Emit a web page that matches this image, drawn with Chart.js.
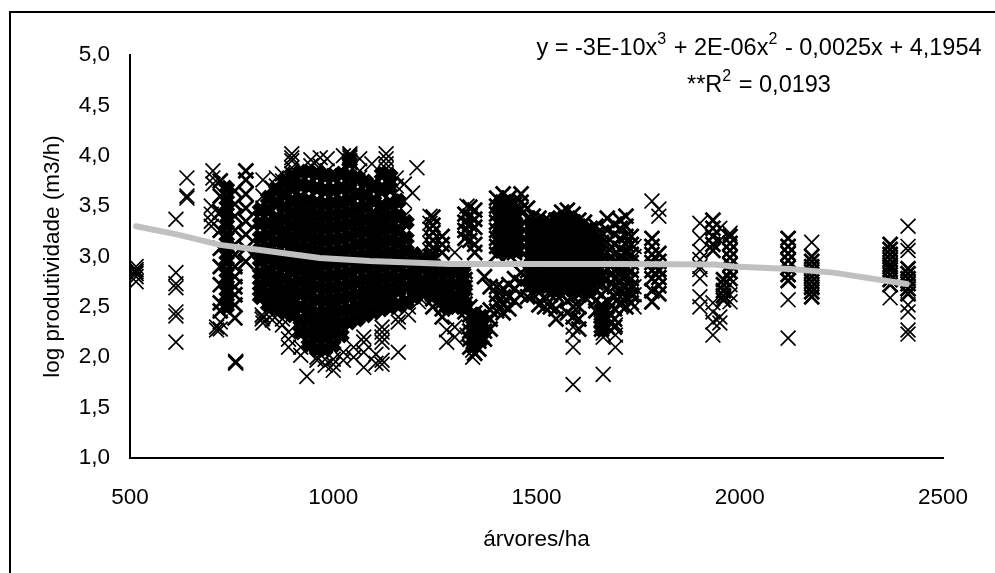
<!DOCTYPE html>
<html lang="pt">
<head>
<meta charset="utf-8">
<script src="https://cdn.jsdelivr.net/npm/chart.js@4"></script>
<style>
html,body{margin:0;padding:0;background:#fff;width:995px;height:573px;overflow:hidden}
#wrap{position:relative;width:995px;height:573px}
canvas{position:absolute;left:0;top:0}
#frame{position:absolute;left:9px;top:11px;width:986px;height:562px;border-left:2px solid #000;border-top:2px solid #000;box-sizing:border-box}
.eq{position:absolute;font:23.5px "Liberation Sans",Arial,sans-serif;color:#000;white-space:nowrap;text-align:center;width:480px;left:519px}
.eq sup{font-size:16px;line-height:0;vertical-align:baseline;position:relative;top:-11px;padding-right:1px}
</style>
</head>
<body>
<div id="wrap">
<canvas id="c" width="995" height="573"></canvas>
<div id="frame"></div>
<div class="eq" style="top:34px">y = -3E-10x<sup>3</sup> + 2E-06x<sup>2</sup> - 0,0025x + 4,1954</div>
<div class="eq" style="top:71px">**R<sup>2</sup> = 0,0193</div>
</div>
<script>
const xTicks=[500,1000,1500,2000,2500];
const yTicks=[1,1.5,2,2.5,3,3.5,4,4.5,5];

// Trend line
const trendX=[515,615,721,820,967,1090,1287,1500,1700,1939,1983,2124,2230,2411];
const trendY=[3.30,3.22,3.115,3.065,2.985,2.955,2.926,2.926,2.926,2.92,2.90,2.875,2.84,2.727];

// Overplotted solid black parts of the cloud
const coreX=[738,820,840,860,880,900,920,940,960,980,1000,1020,1040,1060,1080,1100,1120,1140,1160,1180,1200,1220,1240,1260,1280,1300,1320,1345,1365,1410,1430,1448,1490,1510,1530,1550,1570,1590,1610,1630,1650,1660];
const coreY=[
[3.68,3.56,3.44,3.32,3.20,3.08,2.96,2.84,2.72,2.60,2.50],
[3.46,3.33,3.19,3.07,2.96,2.83,2.71,2.60],
[3.58,3.46,3.33,3.21,3.09,2.98,2.86,2.75,2.63,2.52],
[3.66,3.53,3.38,3.27,3.15,3.03,2.92,2.80,2.69,2.58,2.48],
[3.74,3.62,3.49,3.37,3.25,3.14,3.01,2.90,2.78,2.66,2.55,2.45],
[3.80,3.68,3.55,3.43,3.31,3.19,3.08,2.96,2.85,2.73,2.62,2.52,2.42],
[3.84,3.71,3.57,3.46,3.34,3.22,3.10,2.98,2.87,2.75,2.63,2.50,2.37,2.25],
[3.84,3.70,3.55,3.43,3.31,3.20,3.08,2.96,2.84,2.72,2.60,2.48,2.36,2.24,2.12],
[3.82,3.68,3.53,3.41,3.29,3.17,3.05,2.93,2.82,2.70,2.57,2.44,2.32,2.20,2.08],
[3.80,3.66,3.52,3.40,3.28,3.16,3.04,2.92,2.80,2.68,2.56,2.44,2.32,2.20,2.08],
[3.80,3.66,3.53,3.41,3.29,3.17,3.05,2.93,2.81,2.69,2.57,2.46,2.35,2.24,2.12],
[3.82,3.68,3.54,3.42,3.30,3.18,3.06,2.94,2.82,2.70,2.58,2.46,2.34,2.22],
[3.94,3.80,3.68,3.56,3.44,3.32,3.20,3.08,2.96,2.84,2.72,2.60,2.47,2.35],
[3.78,3.62,3.48,3.36,3.24,3.12,3.00,2.88,2.75,2.62,2.50,2.38],
[3.74,3.61,3.49,3.37,3.25,3.13,3.01,2.89,2.77,2.65,2.53,2.42],
[3.70,3.55,3.41,3.29,3.17,3.05,2.93,2.81,2.69,2.57,2.45],
[3.82,3.66,3.50,3.38,3.26,3.14,3.02,2.90,2.78,2.66,2.54,2.48],
[3.80,3.68,3.52,3.40,3.28,3.16,3.04,2.92,2.80,2.68,2.58,2.50],
[3.55,3.40,3.26,3.14,3.02,2.90,2.78,2.66,2.52],
[3.34,3.18,3.06,2.94,2.82,2.70,2.55],
[3.02,2.89,2.78,2.68,2.60],
[2.98,2.88,2.76,2.65],
[2.98,2.86,2.74,2.62],
[2.84,2.72,2.60],
[2.84,2.72,2.60,2.50],
[2.84,2.72,2.60,2.50],
[2.84,2.72,2.60,2.50],
[2.42,2.32,2.22,2.12],
[2.38,2.28,2.18],
[3.52,3.40,3.28,3.16,3.06],
[3.54,3.42,3.30,3.18,3.08],
[3.40,3.28,3.16,3.06],
[3.30,3.18,3.06,2.94,2.82,2.72],
[3.30,3.18,3.06,2.94,2.82,2.72],
[3.32,3.20,3.08,2.96,2.84,2.72],
[3.38,3.26,3.14,3.02,2.90,2.78,2.68],
[3.38,3.26,3.14,3.02,2.90,2.78,2.68],
[3.36,3.24,3.12,3.00,2.88,2.76,2.66],
[3.30,3.18,3.06,2.94,2.82,2.70],
[3.24,3.12,3.00,2.88,2.76,2.66],
[3.12,3.00,2.88,2.76],
[2.48,2.38,2.28]
];

// Columns that are nearly solid
const midX=[722,758,785,1245,1268,1324,1336,1348,1358,1372,1386,1402,1418,1432,1446,1462,1478,1492,1506,1520,1534,1548,1562,1576,1590,1604,1618,1632,1646,1660,1674,1692,1706,1720,1733,1784,1801,1934,1960,1976,2119,2177,2370,2414];
const midY=[
[3.75,3.60,3.44,3.26,3.08,2.90,2.72,2.54,2.46],
[3.65,3.52,3.40,3.26,3.12,3.02,2.90,2.80,2.70,2.62,2.52,2.39],
[3.85,3.76,3.62,3.48,3.35,3.22,3.08,2.95],
[3.39,3.31,3.24,3.16,3.08,3.00,2.90,2.82,2.74,2.66,2.58,2.50],
[3.20,3.12,3.04,2.85,2.78,2.70,2.62,2.55,2.48,2.40],
[3.42,3.34,3.26,3.18,2.85,2.77,2.69,2.61,2.53,2.45],
[3.49,3.40,3.32,3.24,3.16,2.50,2.42,2.34,2.26,2.18,2.10],
[3.46,3.37,3.29,3.12,3.04,2.44,2.36,2.28,2.20,2.12,2.04],
[2.40,2.32,2.24,2.16,2.08],
[2.80,2.42,2.34,2.26,2.18],
[2.70,2.47,2.38,2.28],
[3.58,3.50,3.42,3.34,3.26,3.18,3.10,3.02,2.70,2.62,2.54,2.46],
[3.62,3.54,3.46,3.38,3.30,3.22,3.14,3.06,2.68,2.60,2.52,2.44],
[3.58,3.50,3.42,3.34,3.26,3.18,3.10,3.02,2.72,2.60,2.48],
[3.52,3.44,3.36,3.28,3.20,3.12,3.04,2.78,2.68,2.56],
[3.62,3.54,3.47,3.30,3.22,3.14,3.06,2.84,2.74,2.62],
[3.48,3.38,3.30,3.22,3.14,3.06,2.98,2.86,2.78,2.70,2.60],
[3.40,3.32,3.24,3.16,3.08,3.00,2.88,2.80,2.72,2.62],
[3.38,3.30,3.22,3.14,3.06,2.98,2.88,2.80,2.72,2.64,2.52],
[3.36,3.28,3.20,3.12,3.04,2.96,2.88,2.80,2.72,2.60,2.50],
[3.34,3.27,3.19,3.11,3.03,2.95,2.87,2.79,2.71,2.62,2.50],
[3.36,3.28,3.20,3.12,3.04,2.96,2.88,2.80,2.72,2.62,2.48,2.38],
[3.44,3.35,3.27,3.19,3.11,3.03,2.95,2.87,2.79,2.71,2.62],
[3.46,3.38,3.30,3.22,3.14,3.06,2.98,2.90,2.82,2.74,2.66,2.56,2.44],
[3.42,3.34,3.26,3.18,3.10,3.02,2.94,2.86,2.78,2.70,2.60,2.50,2.40],
[3.36,3.28,3.20,3.12,3.04,2.96,2.88,2.80,2.72,2.62,2.50,2.38,2.28],
[3.34,3.26,3.18,3.10,3.02,2.94,2.86,2.78,2.70,2.60],
[3.28,3.20,3.12,3.04,2.96,2.88,2.80,2.72,2.62],
[3.30,3.22,3.14,3.06,2.98,2.90,2.82,2.74,2.66,2.56,2.46],
[3.24,3.14,3.04,2.96,2.88,2.80,2.72,2.62,2.52,2.44,2.36,2.28],
[3.38,3.26,3.14,3.04,2.96,2.88,2.78,2.68,2.56,2.46,2.38,2.30],
[3.32,3.22,3.12,3.02,2.94,2.86,2.78,2.70,2.60,2.48,2.38,2.30],
[3.36,3.28,3.18,3.08,3.00,2.92,2.84,2.76,2.68,2.60,2.52],
[3.40,3.30,3.20,3.12,3.04,2.96,2.88,2.80,2.70,2.60,2.50],
[3.20,3.12,3.02,2.94,2.86,2.78,2.70,2.62,2.54],
[3.18,3.10,3.02,2.94,2.86,2.78,2.66,2.55],
[3.03,2.95,2.87,2.79,2.71,2.63],
[3.36,3.28,3.20,3.12,3.06],
[2.77,2.72,2.66,2.61,2.57],
[3.20,3.13,3.06,2.99,2.92,2.85,2.78],
[3.18,3.10,3.03,2.96,2.89,2.82,2.76],
[3.00,2.95,2.90,2.85,2.80,2.75,2.70,2.65,2.60],
[3.12,3.07,3.02,2.97,2.92,2.87,2.82,2.77,2.72],
[2.88,2.83,2.78,2.73,2.68,2.63],
[3.02,2.97,2.92,2.87,2.82,2.77,2.72,2.67,2.62]
];

// Individually visible crosses
const thinX=[515,613,640,700,704,713,722,760,827,850,860,875,898,945,968,985,1025,1041,1065,1095,1130,1155,1175,1195,1206,825,890,920,935,960,980,1000,1050,1075,1105,1120,1160,1185,1210,1225,1238,1279,1299,1329,1343,1590,1664,1694,1740,1784,1801,1902,1934,1951,1976,2119,2177,2370,2414];
const thinY=[
[2.90,2.87,2.85,2.83,2.80,2.75],
[3.37,2.84,2.73,2.69,2.45,2.41,2.15],
[3.78,3.60,3.58],
[3.50,3.42,3.35,3.30],
[3.85,3.78,3.72],
[2.30,2.27],
[2.28,2.35],
[1.95,1.94,1.96],
[3.76,3.60,3.48,2.40,2.34],
[3.68,3.58,2.42,2.37],
[3.78,3.70],
[3.82,3.75,2.38,2.32],
[4.02,3.98,3.95,3.88,3.82],
[3.90,3.96],
[3.98,3.90],
[3.97,3.85],
[4.00,1.97,2.05],
[4.02,4.00,3.98,3.95,3.93,3.90],
[3.97,3.85,3.78],
[3.92],
[4.02,3.97,3.92,3.87,3.82,3.76],
[3.78,3.70],
[3.72,3.55,3.40],
[3.63],
[3.88],
[2.38,2.42],
[2.10,2.18,2.25],
[2.02,2.10],
[1.81],
[1.97,2.00],
[1.98,1.92],
[1.87,1.93,1.98],
[2.00,2.10],
[1.90,2.05,2.15,2.20],
[1.94,2.03],
[1.97,1.93,2.15,2.20,2.25,2.30],
[2.05,2.35,2.40],
[2.42,2.50],
[2.55,2.60],
[2.65,2.70],
[3.40,3.33,3.27,3.20,3.13,3.06,3.00],
[2.15,2.27],
[3.04,2.20,2.30],
[3.50,2.22],
[2.00,2.07],
[1.73,2.10,2.22,2.30],
[1.83,2.20,2.24],
[2.22,2.10,2.32],
[3.10,3.00,2.70,2.62,2.50],
[3.55,2.55],
[3.47,2.85,3.40],
[3.33,3.18,3.05,2.97,2.90,2.87,2.78,2.60,2.50],
[2.54,2.45,2.35,2.22],
[3.28,3.16,2.34,2.40],
[3.23,2.72,2.62,2.55],
[3.03,2.57,2.19],
[3.14,2.69],
[2.90,2.59],
[3.30,3.10,3.06,2.52,2.45,2.27,2.23]
];

const expand=(xs,ys)=>xs.flatMap((x,i)=>ys[i].map(y=>({x,y})));
const mark=(data,r,w)=>({type:'scatter',data,pointStyle:'crossRot',pointRadius:r,pointHoverRadius:r,
  pointBorderColor:'#000',pointBackgroundColor:'#000',pointBorderWidth:w,showLine:false,order:2});
const font={family:'"Liberation Sans"',size:22.5};

new Chart(document.getElementById('c'),{
  data:{datasets:[
    {type:'line',label:'trend',data:trendX.map((x,i)=>({x,y:trendY[i]})),borderColor:'#C0C0C0',borderWidth:6,
     pointRadius:0,tension:0,borderCapStyle:'round',order:1},
    mark(expand(coreX,coreY),8,8),
    mark(expand(midX,midY),10.5,2.8),
    mark(expand(thinX,thinY),10.5,1.7)
  ]},
  options:{
    responsive:false,animation:false,
    layout:{padding:{top:55,right:52,left:0,bottom:0}},
    plugins:{legend:{display:false},tooltip:{enabled:false}},
    scales:{
      x:{type:'linear',min:500,max:2500,
        afterFit:s=>{s.height=115},
        afterBuildTicks:s=>{s.ticks=xTicks.map(v=>({value:v}))},
        grid:{display:false,drawTicks:true,tickLength:8,tickColor:'#000',tickWidth:2},
        border:{color:'#000',width:2},
        ticks:{color:'#000',font,padding:18,maxRotation:0,callback:v=>String(v)},
        title:{display:true,text:'árvores/ha',color:'#000',font,padding:{top:0,bottom:20}}},
      y:{type:'linear',min:1,max:5,
        afterFit:s=>{s.width=130},
        afterBuildTicks:s=>{s.ticks=yTicks.map(v=>({value:v}))},
        grid:{display:false,drawTicks:true,tickLength:8,tickColor:'#000',tickWidth:2},
        border:{color:'#000',width:2},
        ticks:{color:'#000',font,padding:12,callback:v=>v.toFixed(1).replace('.',',')},
        title:{display:true,text:'log produtividade (m3/h)',color:'#000',font,padding:{top:39,bottom:0}}}
    }
  }
});
</script>
</body>
</html>
